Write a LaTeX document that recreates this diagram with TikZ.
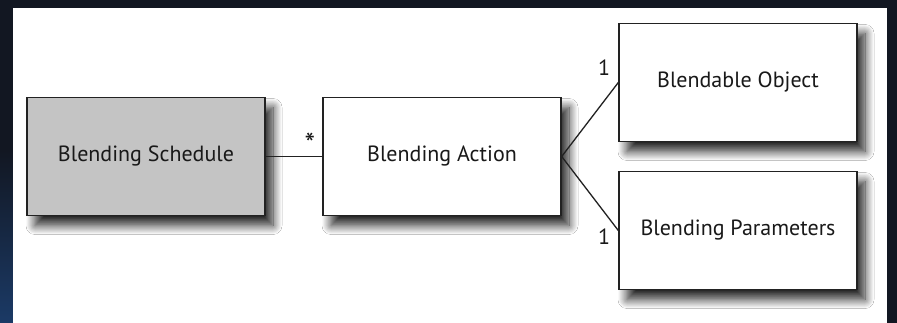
\documentclass[tikz,border=0pt]{standalone}
\usepackage{fontspec}
\setmainfont{PT Sans}
\usetikzlibrary{shadows.blur}
\definecolor{bgdark}{HTML}{121722}
\definecolor{bgblue}{HTML}{1B3A66}
\definecolor{boxgray}{HTML}{C4C4C4}
\definecolor{edge}{HTML}{222222}
\tikzset{
  cls/.style={draw=edge, line width=1.4pt, minimum width=238pt, minimum height=118pt,
    inner sep=0pt, font=\fontsize{22}{24}\selectfont, text=black!90,
    blur shadow={shadow xshift=8pt, shadow yshift=-10pt, shadow blur radius=9pt, shadow opacity=85, shadow blur steps=14}},
  assoc/.style={draw=edge, line width=1.3pt},
  mult/.style={font=\fontsize{22}{24}\selectfont, text=black!90, inner sep=0pt}
}
\begin{document}
\begin{tikzpicture}[x=1pt,y=-1pt]
\useasboundingbox (0,0) rectangle (897,323);
\fill[bgdark] (0,0) rectangle (897,323);
\shade[top color=bgdark, bottom color=bgblue] (0,150) rectangle (13,323);
\fill[white] (13,8) rectangle (887,323);
\node[cls, fill=boxgray] (sched) at (146,156.5) {Blending Schedule};
\node[cls, fill=white] (action) at (442,156.5) {Blending Action};
\node[cls, fill=white] (obj) at (738,82.5) {Blendable Object};
\node[cls, fill=white] (params) at (738,230.5) {Blending Parameters};
\coordinate (apex) at (action.east);
\draw[assoc] (sched.east) -- (action.west);
\draw[assoc] (apex) -- (obj.west);
\draw[assoc] (apex) -- (params.west);
\node[mult, font=\fontsize{30}{30}\selectfont] (star) at (310,144) {*};
\node[mult] (one1) at (604,68) {1};
\node[mult] (one2) at (604,237) {1};
\end{tikzpicture}
\end{document}
